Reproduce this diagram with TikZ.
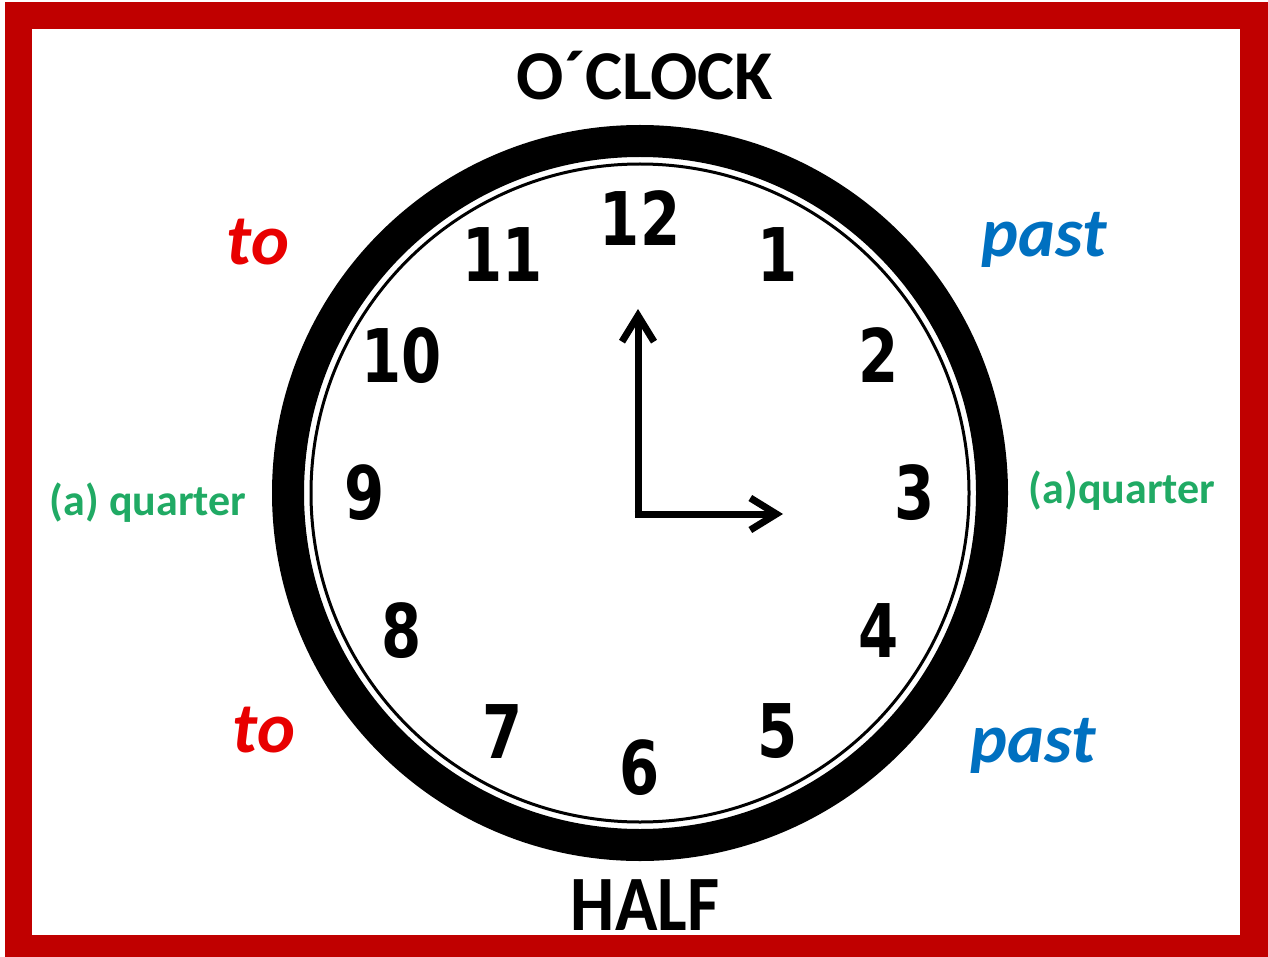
\documentclass[tikz,border=0pt]{standalone}
\usepackage{fontspec}
\setmainfont{Carlito}
\newfontfamily\dialfont{DejaVu Sans}
\usepackage{xcolor}
\usetikzlibrary{arrows.meta,positioning,calc}
\definecolor{framered}{RGB}{192,0,0}
\definecolor{tored}{RGB}{232,0,0}
\definecolor{pastblue}{RGB}{0,112,192}
\definecolor{qgreen}{RGB}{32,170,100}
\tikzset {
    label/.style={anchor=base, inner sep=0pt, font=\bfseries\fontsize{70}{84}\selectfont},
    tolabel/.style={label, text=tored, font=\bfseries\itshape\fontsize{72}{86}\selectfont},
    pastlabel/.style={label, text=pastblue, font=\bfseries\itshape\fontsize{70}{84}\selectfont},
    quarterlabel/.style={label, text=qgreen, font=\bfseries\fontsize{44}{52}\selectfont},
    numeral/.style={inner sep=0pt, xscale=0.78,
        font=\dialfont\bfseries\fontsize{74}{80}\selectfont},
    hand/.style={line width=7pt,
        -{Straight Barb[length=26pt, width=32pt, line width=7pt]}}
}

\begin{document}
\begin{tikzpicture}[x=1pt, y=-1pt]

        \useasboundingbox (0,0) rectangle (1268,957);
        \fill[white] (0,0) rectangle (1268,957);
        \fill[framered] (5,2) rectangle (1268,957);
        \fill[white] (32,29) rectangle (1240,935);

        % dial
        \coordinate (C) at (640,493);
        \draw[line width=32pt] (C) circle[radius=352];
        \draw[line width=3pt] (C) circle[radius=329];
        \foreach \n in {1,...,12}
            \node[numeral] (n\n) at ($(C)+({275*sin(30*\n)},{-275*cos(30*\n)})$) {\n};

        % hands
        \coordinate (hub) at (638,514);
        \coordinate (mintip) at (638,309);
        \coordinate (hourtip) at (783,514);
        \draw[hand] (hub) -- (mintip);
        \draw[hand] ([xshift=-3.5pt]hub) -- (hourtip);

        % labels
        \node[label] (oclock) at (645,100) {O´CLOCK};
        \node[label, yscale=1.12] (half) at (645,930) {HALF};
        \node[tolabel] (toA) at (258,265) {to};
        \node[tolabel] (toB) at (264,752) {to};
        \node[pastlabel] (pastA) at (1044,257) {past};
        \node[pastlabel] (pastB) at (1033,762) {past};
        \node[quarterlabel] (qL) at (148,515) {(a) quarter};
        \node[quarterlabel] (qR) at (1122,503) {(a)quarter};

    \end{tikzpicture}
\end{document}
